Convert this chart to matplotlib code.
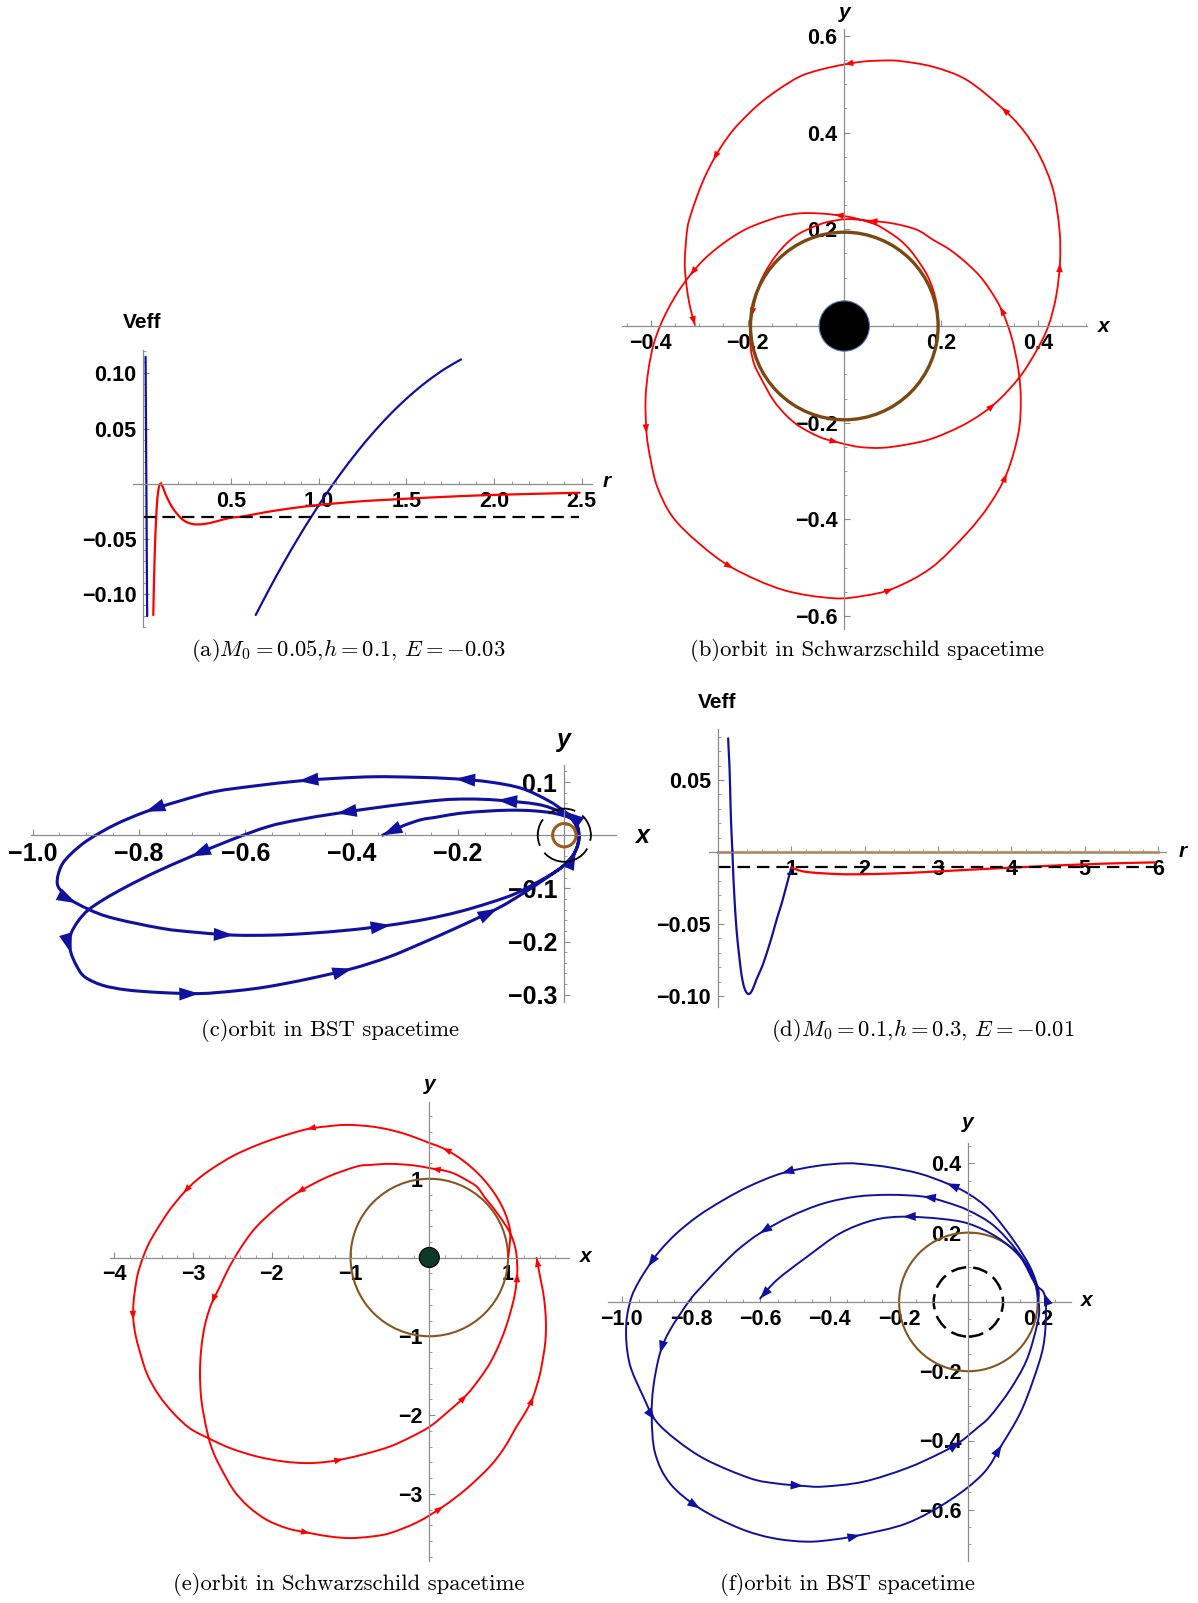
import numpy as np
import matplotlib
matplotlib.use("Agg")
import matplotlib.pyplot as plt
from matplotlib.patches import Circle, PathPatch
from matplotlib.path import Path
from matplotlib.ticker import MultipleLocator

plt.rcParams["mathtext.fontset"] = "cm"
plt.rcParams["lines.scale_dashes"] = False

W, H = 1198, 1603
M = "\u2212"
RED = "#ff0000"
BLUE = "#1111a0"
AXIS = "#8c8c8c"
TICKFONT = "Liberation Sans"

# ---------------- (a) effective potential, M0=0.05, h=0.1, E=-0.03
a_red = [(0.057, -0.119), (0.060, -0.095), (0.064, -0.070), (0.068, -0.050), (0.073, -0.032),
         (0.078, -0.018), (0.084, -0.008), (0.091, -0.002), (0.099, 0.0002), (0.107, -0.0015),
         (0.116, -0.005), (0.128, -0.010), (0.143, -0.015), (0.165, -0.0215), (0.19, -0.0268),
         (0.22, -0.032), (0.25, -0.035), (0.28, -0.0365), (0.31, -0.0369), (0.36, -0.0362),
         (0.42, -0.034), (0.494, -0.031), (0.57, -0.0296), (0.684, -0.0262), (0.82, -0.0228),
         (0.969, -0.0198), (1.1, -0.0178), (1.254, -0.0158), (1.4, -0.0145), (1.539, -0.0133),
         (1.72, -0.0119), (1.919, -0.0106), (2.2, -0.0093), (2.489, -0.0082)]
a_blue_wall = [(0.013, 0.115), (0.022, -0.12)]
a_blue = [(0.641, -0.119), (0.72, -0.0950), (0.80, -0.0719), (0.88, -0.0501), (0.96, -0.0295),
          (1.04, -0.0101), (1.12, 0.0080), (1.22, 0.0289), (1.32, 0.0478), (1.42, 0.0648),
          (1.52, 0.0798), (1.62, 0.0929), (1.72, 0.1041), (1.812, 0.1126)]
a_energy = -0.03
a_energy_r = (0.0, 2.485)
a_xticks = [0.5, 1.0, 1.5, 2.0, 2.5]
a_xlabels = ["0.5", "1.0", "1.5", "2.0", "2.5"]
a_yticks = [-0.10, -0.05, 0.05, 0.10]
a_ylabels = [M + "0.10", M + "0.05", "0.05", "0.10"]

# ---------------- (b) orbit in Schwarzschild spacetime
b_orbit = [(0.195, 0.000), (0.192, 0.040), (0.184, 0.074), (0.172, 0.104), (0.156, 0.130),
           (0.137, 0.156), (0.115, 0.178), (0.091, 0.195), (0.067, 0.209), (0.040, 0.218),
           (0.013, 0.225), (-0.020, 0.230), (-0.055, 0.233), (-0.092, 0.233), (-0.130, 0.227),
           (-0.165, 0.216), (-0.200, 0.202), (-0.230, 0.185), (-0.262, 0.162), (-0.292, 0.136),
           (-0.319, 0.105), (-0.343, 0.072), (-0.364, 0.036), (-0.381, 0.000), (-0.395, -0.040),
           (-0.405, -0.090), (-0.411, -0.150), (-0.409, -0.222), (-0.400, -0.280), (-0.386, -0.335),
           (-0.355, -0.395), (-0.300, -0.450), (-0.230, -0.501), (-0.126, -0.546), (-0.023, -0.563),
           (0.040, -0.558), (0.101, -0.543), (0.180, -0.500), (0.253, -0.429), (0.300, -0.370),
           (0.336, -0.305), (0.360, -0.222), (0.365, -0.153), (0.360, -0.090), (0.345, -0.020),
           (0.322, 0.040), (0.287, 0.095), (0.253, 0.130), (0.218, 0.158), (0.184, 0.178),
           (0.150, 0.199), (0.101, 0.212), (0.050, 0.218), (0.005, 0.221), (-0.035, 0.215),
           (-0.064, 0.205), (-0.095, 0.190), (-0.119, 0.171), (-0.142, 0.145), (-0.161, 0.116),
           (-0.174, 0.090), (-0.183, 0.060), (-0.192, 0.019), (-0.195, -0.010), (-0.193, -0.050),
           (-0.186, -0.080), (-0.174, -0.105), (-0.147, -0.153), (-0.120, -0.185), (-0.092, -0.208),
           (-0.050, -0.230), (-0.012, -0.241), (0.030, -0.250), (0.077, -0.252), (0.130, -0.245),
           (0.184, -0.232), (0.253, -0.201), (0.312, -0.160), (0.363, -0.105), (0.398, -0.050),
           (0.422, 0.000), (0.438, 0.061), (0.446, 0.130), (0.445, 0.199), (0.432, 0.281),
           (0.405, 0.350), (0.370, 0.405), (0.325, 0.452), (0.253, 0.509), (0.184, 0.536),
           (0.115, 0.548), (0.077, 0.549), (0.040, 0.547), (0.000, 0.541), (-0.050, 0.530),
           (-0.092, 0.516), (-0.135, 0.490), (-0.174, 0.461), (-0.205, 0.432), (-0.230, 0.405),
           (-0.252, 0.375), (-0.271, 0.343), (-0.290, 0.305), (-0.305, 0.267), (-0.317, 0.232),
           (-0.325, 0.199), (-0.330, 0.130), (-0.325, 0.074), (-0.318, 0.035), (-0.309, 0.002)]
b_arrows = [(0.000, 0.541), (0.325, 0.452), (-0.271, 0.343), (-0.309, 0.002), (-0.319, 0.105),
            (0.322, 0.040), (0.050, 0.218), (-0.020, 0.230), (-0.192, 0.019), (-0.409, -0.222),
            (-0.230, -0.501), (0.101, -0.543), (0.336, -0.305), (-0.012, -0.241), (0.312, -0.160),
            (0.446, 0.130)]
b_ring = 0.194
b_hole = 0.052
b_ticks = [-0.4, -0.2, 0.2, 0.4]
b_xlabels = [M + "0.4", M + "0.2", "0.2", "0.4"]
b_yticks = [-0.6, -0.4, -0.2, 0.2, 0.4, 0.6]
b_ylabels = [M + "0.6", M + "0.4", M + "0.2", "0.2", "0.4", "0.6"]

# ---------------- (c) orbit in BST spacetime
c_orbit = [(0.027, -0.010), (0.026, 0.010), (0.018, 0.030), (0.000, 0.045), (-0.030, 0.065),
           (-0.080, 0.088), (-0.140, 0.100), (-0.205, 0.106), (-0.280, 0.109), (-0.356, 0.110),
           (-0.430, 0.107), (-0.500, 0.102), (-0.580, 0.093), (-0.658, 0.082), (-0.725, 0.064),
           (-0.788, 0.044), (-0.845, 0.020), (-0.896, -0.009), (-0.928, -0.035), (-0.947, -0.059),
           (-0.954, -0.091), (-0.940, -0.112), (-0.918, -0.128), (-0.860, -0.153), (-0.759, -0.175),
           (-0.690, -0.183), (-0.622, -0.188), (-0.550, -0.188), (-0.486, -0.185), (-0.400, -0.178),
           (-0.327, -0.169), (-0.260, -0.158), (-0.198, -0.144), (-0.140, -0.127), (-0.090, -0.109),
           (-0.032, -0.078), (-0.003, -0.059), (0.015, -0.040), (0.025, -0.018), (0.026, 0.005),
           (0.015, 0.030), (-0.010, 0.045), (-0.050, 0.058), (-0.126, 0.066), (-0.180, 0.068),
           (-0.234, 0.066), (-0.330, 0.055), (-0.428, 0.041), (-0.500, 0.029), (-0.558, 0.016),
           (-0.630, -0.010), (-0.702, -0.040), (-0.770, -0.070), (-0.824, -0.097), (-0.865, -0.120),
           (-0.896, -0.141), (-0.915, -0.162), (-0.928, -0.185), (-0.930, -0.205), (-0.928, -0.222),
           (-0.918, -0.245), (-0.903, -0.266), (-0.870, -0.282), (-0.824, -0.291), (-0.760, -0.296),
           (-0.687, -0.298), (-0.620, -0.293), (-0.558, -0.285), (-0.480, -0.270), (-0.399, -0.251),
           (-0.330, -0.229), (-0.270, -0.204), (-0.200, -0.173), (-0.126, -0.138), (-0.080, -0.111),
           (-0.039, -0.084), (0.004, -0.053), (0.022, -0.028), (0.028, 0.000), (0.018, 0.028),
           (-0.018, 0.041), (-0.060, 0.046), (-0.104, 0.047), (-0.150, 0.045), (-0.198, 0.041),
           (-0.240, 0.034), (-0.270, 0.029), (-0.305, 0.017), (-0.342, 0.000)]
c_arrows = [(-0.205, 0.106), (-0.500, 0.102), (-0.788, 0.044), (-0.918, -0.128), (-0.622, -0.188),
            (-0.327, -0.169), (-0.126, 0.066), (-0.428, 0.041), (-0.702, -0.040), (-0.928, -0.222),
            (-0.687, -0.298), (-0.399, -0.251), (-0.126, -0.138), (-0.342, 0.000), (0.022, -0.028),
            (0.000, 0.045)]
c_ring = 0.022
c_dash_ring = 0.05
c_xticks = [-1.0, -0.8, -0.6, -0.4, -0.2]
c_xlabels = [M + "1.0", M + "0.8", M + "0.6", M + "0.4", M + "0.2"]
c_yticks = [-0.3, -0.2, -0.1, 0.1]
c_ylabels = [M + "0.3", M + "0.2", M + "0.1", "0.1"]

# ---------------- (d) effective potential, M0=0.1, h=0.3, E=-0.01
d_blue = [(0.137, 0.0789), (0.147, 0.068), (0.157, 0.0569), (0.166, 0.040), (0.176, 0.0222),
          (0.186, 0.010), (0.196, -0.0009), (0.205, -0.013), (0.215, -0.0241), (0.230, -0.038),
          (0.245, -0.0495), (0.264, -0.061), (0.284, -0.0704), (0.308, -0.081), (0.332, -0.0889),
          (0.362, -0.095), (0.396, -0.0981), (0.425, -0.0985), (0.454, -0.0970), (0.49, -0.093),
          (0.527, -0.0880), (0.58, -0.082), (0.624, -0.0762), (0.69, -0.066), (0.746, -0.0565),
          (0.81, -0.045), (0.868, -0.0356), (0.935, -0.023), (1.0, -0.0106)]
d_red = [(1.0, -0.0106), (1.06, -0.0120), (1.137, -0.0132), (1.25, -0.0141), (1.429, -0.0148),
         (1.62, -0.0153), (1.82, -0.0155), (2.1, -0.0153), (2.45, -0.0148), (2.8, -0.0140),
         (3.18, -0.0130), (3.55, -0.0120), (3.91, -0.0111), (4.28, -0.0102), (4.64, -0.0093),
         (5.0, -0.0086), (5.38, -0.0079), (5.96, -0.0072)]
d_zero_r = (0.0, 6.0)
d_energy = -0.0105
d_energy_r = (0.0, 6.0)
d_xticks = [1, 2, 3, 4, 5, 6]
d_xlabels = ["1", "2", "3", "4", "5", "6"]
d_yticks = [-0.10, -0.05, 0.05]
d_ylabels = [M + "0.10", M + "0.05", "0.05"]

# ---------------- (e) orbit in Schwarzschild spacetime
e_orbit = [(1.000, 0.000), (1.022, 0.180), (1.025, 0.350), (0.960, 0.570), (0.850, 0.780),
           (0.700, 0.980), (0.540, 1.140), (0.360, 1.280), (0.170, 1.390), (0.008, 1.451),
           (-0.250, 1.550), (-0.499, 1.621), (-0.750, 1.665), (-1.049, 1.684), (-1.300, 1.665),
           (-1.557, 1.629), (-1.900, 1.530), (-2.192, 1.425), (-2.481, 1.296), (-2.755, 1.131),
           (-2.956, 0.981), (-3.123, 0.817), (-3.300, 0.600), (-3.462, 0.351), (-3.560, 0.180),
           (-3.631, 0.013), (-3.700, -0.200), (-3.737, -0.410), (-3.758, -0.600), (-3.758, -0.791),
           (-3.735, -0.960), (-3.694, -1.130), (-3.589, -1.468), (-3.440, -1.740), (-3.250, -1.976),
           (-3.040, -2.170), (-2.806, -2.294), (-2.530, -2.420), (-2.192, -2.526), (-1.853, -2.590),
           (-1.557, -2.611), (-1.300, -2.595), (-1.092, -2.560), (-0.796, -2.490), (-0.499, -2.400),
           (-0.245, -2.285), (0.008, -2.146), (0.241, -1.955), (0.474, -1.744), (0.643, -1.532),
           (0.770, -1.342), (0.876, -1.130), (0.961, -0.918), (1.033, -0.686), (1.088, -0.453),
           (1.117, -0.199), (1.109, 0.013), (1.085, 0.150), (1.040, 0.280), (0.975, 0.400),
           (0.885, 0.530), (0.800, 0.645), (0.710, 0.755), (0.602, 0.900), (0.460, 0.990),
           (0.305, 1.070), (0.160, 1.110), (0.030, 1.130), (-0.200, 1.170), (-0.499, 1.189),
           (-0.750, 1.175), (-0.923, 1.155), (-1.300, 1.020), (-1.684, 0.817), (-1.950, 0.620),
           (-2.192, 0.394), (-2.350, 0.190), (-2.488, -0.030), (-2.580, -0.200), (-2.658, -0.368),
           (-2.763, -0.580), (-2.830, -0.780), (-2.869, -0.961), (-2.900, -1.200), (-2.912, -1.468),
           (-2.900, -1.750), (-2.869, -1.976), (-2.800, -2.300), (-2.740, -2.480), (-2.658, -2.653),
           (-2.488, -2.950), (-2.300, -3.160), (-2.065, -3.331), (-1.800, -3.440), (-1.515, -3.500),
           (-1.250, -3.545), (-1.007, -3.563), (-0.750, -3.545), (-0.499, -3.500), (-0.150, -3.360),
           (0.178, -3.161), (0.480, -2.930), (0.770, -2.653), (0.950, -2.420), (1.109, -2.146),
           (1.230, -1.950), (1.320, -1.765), (1.400, -1.500), (1.447, -1.257), (1.475, -1.050),
           (1.481, -0.834), (1.470, -0.640), (1.447, -0.453), (1.410, -0.260), (1.362, -0.005)]
e_arrows = [(-1.557, 1.629), (0.170, 1.390), (-3.123, 0.817), (-3.758, -0.791), (-1.092, -2.560),
            (0.474, -1.744), (1.117, -0.199), (0.030, 1.130), (-1.684, 0.817), (-2.763, -0.580),
            (-1.515, -3.500), (0.178, -3.161), (1.320, -1.765), (1.362, -0.005)]
e_ring = 1.0
e_hole = 0.127
e_xticks = [-4, -3, -2, -1, 1]
e_xlabels = [M + "4", M + "3", M + "2", M + "1", "1"]
e_yticks = [-3, -2, -1, 1]
e_ylabels = [M + "3", M + "2", M + "1", "1"]

# ---------------- (f) orbit in BST spacetime
f_orbit = [(0.200, 0.000), (0.202, 0.034), (0.178, 0.101), (0.130, 0.178), (0.062, 0.264),
           (0.000, 0.312), (-0.062, 0.342), (-0.140, 0.370), (-0.226, 0.388), (-0.290, 0.396),
           (-0.351, 0.400), (-0.440, 0.392), (-0.539, 0.371), (-0.630, 0.335), (-0.707, 0.294),
           (-0.780, 0.248), (-0.842, 0.198), (-0.890, 0.148), (-0.924, 0.102), (-0.952, 0.057),
           (-0.972, 0.015), (-0.985, -0.040), (-0.988, -0.091), (-0.984, -0.145), (-0.972, -0.197),
           (-0.938, -0.274), (-0.904, -0.341), (-0.842, -0.399), (-0.756, -0.456), (-0.630, -0.509),
           (-0.554, -0.524), (-0.477, -0.531), (-0.419, -0.533), (-0.303, -0.519), (-0.178, -0.480),
           (-0.082, -0.437), (-0.024, -0.404), (0.024, -0.365), (0.062, -0.331), (0.120, -0.254),
           (0.168, -0.168), (0.197, -0.071), (0.204, -0.014), (0.187, 0.072), (0.139, 0.149),
           (0.072, 0.221), (0.000, 0.264), (-0.065, 0.288), (-0.130, 0.304), (-0.226, 0.309),
           (-0.322, 0.304), (-0.419, 0.284), (-0.515, 0.246), (-0.602, 0.198), (-0.660, 0.155),
           (-0.707, 0.111), (-0.760, 0.055), (-0.804, 0.005), (-0.861, -0.081), (-0.890, -0.148),
           (-0.909, -0.244), (-0.914, -0.331), (-0.904, -0.437), (-0.861, -0.524), (-0.775, -0.596),
           (-0.659, -0.654), (-0.563, -0.682), (-0.467, -0.692), (-0.390, -0.686), (-0.313, -0.673),
           (-0.178, -0.639), (-0.053, -0.572), (0.043, -0.495), (0.096, -0.413), (0.149, -0.322),
           (0.187, -0.226), (0.216, -0.129), (0.224, -0.033), (0.218, 0.025), (0.192, 0.053),
           (0.149, 0.130), (0.082, 0.187), (0.000, 0.226), (-0.082, 0.240), (-0.188, 0.246),
           (-0.274, 0.236), (-0.370, 0.198), (-0.466, 0.130), (-0.553, 0.063), (-0.601, 0.010)]
f_arrows = [(-0.062, 0.342), (-0.539, 0.371), (-0.924, 0.102), (-0.904, -0.341), (-0.477, -0.531),
            (-0.024, -0.404), (-0.130, 0.304), (-0.602, 0.198), (-0.890, -0.148), (-0.775, -0.596),
            (-0.313, -0.673), (0.096, -0.413), (-0.188, 0.246), (-0.601, 0.010), (0.218, 0.025)]
f_ring = 0.2
f_dash_ring = 0.1
f_xticks = [-1.0, -0.8, -0.6, -0.4, -0.2, 0.2]
f_xlabels = [M + "1.0", M + "0.8", M + "0.6", M + "0.4", M + "0.2", "0.2"]
f_yticks = [-0.6, -0.4, -0.2, 0.2, 0.4]
f_ylabels = [M + "0.6", M + "0.4", M + "0.2", "0.2", "0.4"]

captions = [
    r"(a)$M_0=0.05$,$h=0.1$, $E=-0.03$",
    "(b)orbit in Schwarzschild spacetime",
    "(c)orbit in BST spacetime",
    r"(d)$M_0=0.1$,$h=0.3$, $E=-0.01$",
    "(e)orbit in Schwarzschild spacetime",
    "(f)orbit in BST spacetime",
]

fig = plt.figure(figsize=(W / 100, H / 100), dpi=100)


def place(origin, scale, xlim, ylim):
    # origin / scale in output pixels, y pointing down
    ox, oy = origin
    sx, sy = scale
    left = ox + xlim[0] * sx
    right = ox + xlim[1] * sx
    top = oy - ylim[1] * sy
    bottom = oy - ylim[0] * sy
    ax = fig.add_axes([left / W, 1 - bottom / H, (right - left) / W, (bottom - top) / H])
    ax.set_xlim(*xlim)
    ax.set_ylim(*ylim)
    return ax


def mm_axes(ax, xt, xl, yt, yl, xminor, yminor, fs=15.5):
    for side in ("top", "right"):
        ax.spines[side].set_visible(False)
    for side in ("left", "bottom"):
        ax.spines[side].set_position(("data", 0))
        ax.spines[side].set_color(AXIS)
        ax.spines[side].set_linewidth(0.9)
    ax.set_xticks(xt, xl)
    ax.set_yticks(yt, yl)
    ax.xaxis.set_minor_locator(MultipleLocator(xminor))
    ax.yaxis.set_minor_locator(MultipleLocator(yminor))
    ax.tick_params(which="major", direction="in", length=4.5, width=0.8, color=AXIS,
                   labelsize=fs, pad=5)
    ax.tick_params(which="minor", direction="in", length=2.5, width=0.6, color=AXIS)
    for lab in ax.get_xticklabels() + ax.get_yticklabels():
        lab.set_fontweight("bold")
        lab.set_family(TICKFONT)
    ax.set_facecolor("none")


def curve(ax, pts, color, lw, z=2):
    # smooth cubic path through the read points (Catmull-Rom tangents)
    P = np.asarray(pts, dtype=float)
    n = len(P)
    verts = [P[0]]
    codes = [Path.MOVETO]
    for i in range(n - 1):
        p0 = P[i - 1] if i > 0 else P[i]
        p1, p2 = P[i], P[i + 1]
        p3 = P[i + 2] if i + 2 < n else P[i + 1]
        verts += [p1 + (p2 - p0) / 6, p2 - (p3 - p1) / 6, p2]
        codes += [Path.CURVE4] * 3
    ax.add_patch(PathPatch(Path(verts, codes), fill=False, ec=color, lw=lw,
                           capstyle="round", joinstyle="round", zorder=z))


def heads(ax, pts, marks, color, size, hl=0.5, hw=0.18):
    arr = np.asarray(pts, dtype=float)
    for mx, my in marks:
        i = int(np.argmin(np.hypot(arr[:, 0] - mx, arr[:, 1] - my)))
        i = max(i, 1)
        if i + 1 < len(arr):
            d = (arr[i + 1] - arr[i - 1]) / 2
        else:
            d = arr[i] - arr[i - 1]
        ax.annotate("", xy=tuple(arr[i]), xytext=tuple(arr[i] - d),
                    arrowprops=dict(arrowstyle=f"-|>,head_length={hl},head_width={hw}",
                                    color=color, lw=0, mutation_scale=size,
                                    shrinkA=0, shrinkB=0))


def label(px, py, s, **kw):
    fig.text(px / W, 1 - py / H, s, ha="center", va="center", **kw)


def axis_name(px, py, s, fs=15, italic=True):
    label(px, py, s, fontsize=fs, fontweight="bold", family=TICKFONT,
          style="italic" if italic else "normal")


# (a)
ax = place((143.3, 483.7), (175.35, 1103.5), (-0.059, 2.558), (-0.130, 0.121))
mm_axes(ax, a_xticks, a_xlabels, a_yticks, a_ylabels, 0.1, 0.01)
curve(ax, a_blue_wall, BLUE, 1.6)
curve(ax, a_blue, BLUE, 1.6)
curve(ax, a_red, RED, 1.6)
ax.plot(a_energy_r, [a_energy, a_energy], color="black", lw=1.6, dashes=(9, 5))
axis_name(142, 323, "Veff", italic=False)
axis_name(607, 481, "r")

# (b)
ax = place((844.3, 326.0), (483.5, 483.5), (-0.459, 0.501), (-0.626, 0.615))
mm_axes(ax, b_ticks, b_xlabels, b_yticks, b_ylabels, 0.05, 0.05)
curve(ax, b_orbit, RED, 1.3)
heads(ax, b_orbit, b_arrows, RED, 13)
ax.add_patch(Circle((0, 0), b_ring, fill=False, ec="#7a4810", lw=2.4, zorder=3))
ax.add_patch(Circle((0, 0), b_hole, fc="black", ec="#5577aa", lw=0.8, zorder=4))
axis_name(844.3, 12, "y")
axis_name(1104, 326, "x")

# (c)
ax = place((564.3, 835.2), (531.5, 531.5), (-1.004, 0.098), (-0.313, 0.133))
mm_axes(ax, c_xticks, c_xlabels, c_yticks, c_ylabels, 0.05, 0.02, fs=18)
curve(ax, c_orbit, BLUE, 2.2)
heads(ax, c_orbit, c_arrows, BLUE, 26, hl=0.55, hw=0.18)
ax.add_patch(Circle((0, 0), c_ring, fill=False, ec="#9b5c1c", lw=2.2, zorder=3))
ax.add_patch(Circle((0, 0), c_dash_ring, fill=False, ec="black", lw=1.3,
                    linestyle=(0, (20, 6)), zorder=3))
axis_name(563, 740, "y", fs=18)
axis_name(642, 836, "x", fs=18)

# (d)
ax = place((718.1, 852.0), (73.3, 1440.0), (-0.13, 6.11), (-0.1076, 0.0856))
mm_axes(ax, d_xticks, d_xlabels, d_yticks, d_ylabels, 0.2, 0.01)
ax.plot(d_zero_r, [0, 0], color="#d1a066", lw=2.2)
curve(ax, d_blue, BLUE, 1.6)
curve(ax, d_red, RED, 1.6)
ax.plot(d_energy_r, [d_energy, d_energy], color="black", lw=1.6, dashes=(9, 5))
axis_name(717.5, 702, "Veff", italic=False)
axis_name(1183, 852, "r")

# (e)
ax = place((429.3, 1257.5), (78.75, 78.75), (-4.05, 1.78), (-3.85, 1.98))
mm_axes(ax, e_xticks, e_xlabels, e_yticks, e_ylabels, 0.2, 0.2)
ax.add_patch(Circle((0, 0), e_ring, fill=False, ec="#86561f", lw=1.5, zorder=2))
curve(ax, e_orbit, RED, 1.4)
heads(ax, e_orbit, e_arrows, RED, 13)
ax.add_patch(Circle((0, 0), e_hole, fc="#0f3a28", ec="black", lw=0.8, zorder=4))
axis_name(429.3, 1084, "y")
axis_name(586, 1257, "x")

# (f)
ax = place((968.4, 1301.9), (346.5, 346.5), (-1.04, 0.296), (-0.749, 0.459))
mm_axes(ax, f_xticks, f_xlabels, f_yticks, f_ylabels, 0.05, 0.05)
ax.add_patch(Circle((0, 0), f_ring, fill=False, ec="#86561f", lw=1.5, zorder=2))
ax.add_patch(Circle((0, 0), f_dash_ring, fill=False, ec="black", lw=1.8,
                    linestyle=(0, (11, 5)), zorder=2))
curve(ax, f_orbit, BLUE, 1.4)
heads(ax, f_orbit, f_arrows, BLUE, 18)
axis_name(968, 1123, "y")
axis_name(1087, 1301, "x")

# captions
cap_pos = [(348, 651), (867, 651), (330, 1030), (923, 1030), (349, 1584), (847, 1584)]
for (px, py), text in zip(cap_pos, captions):
    label(px, py, text, fontsize=16.3, family="cmr10")

fig.savefig("out.png", dpi=100)
